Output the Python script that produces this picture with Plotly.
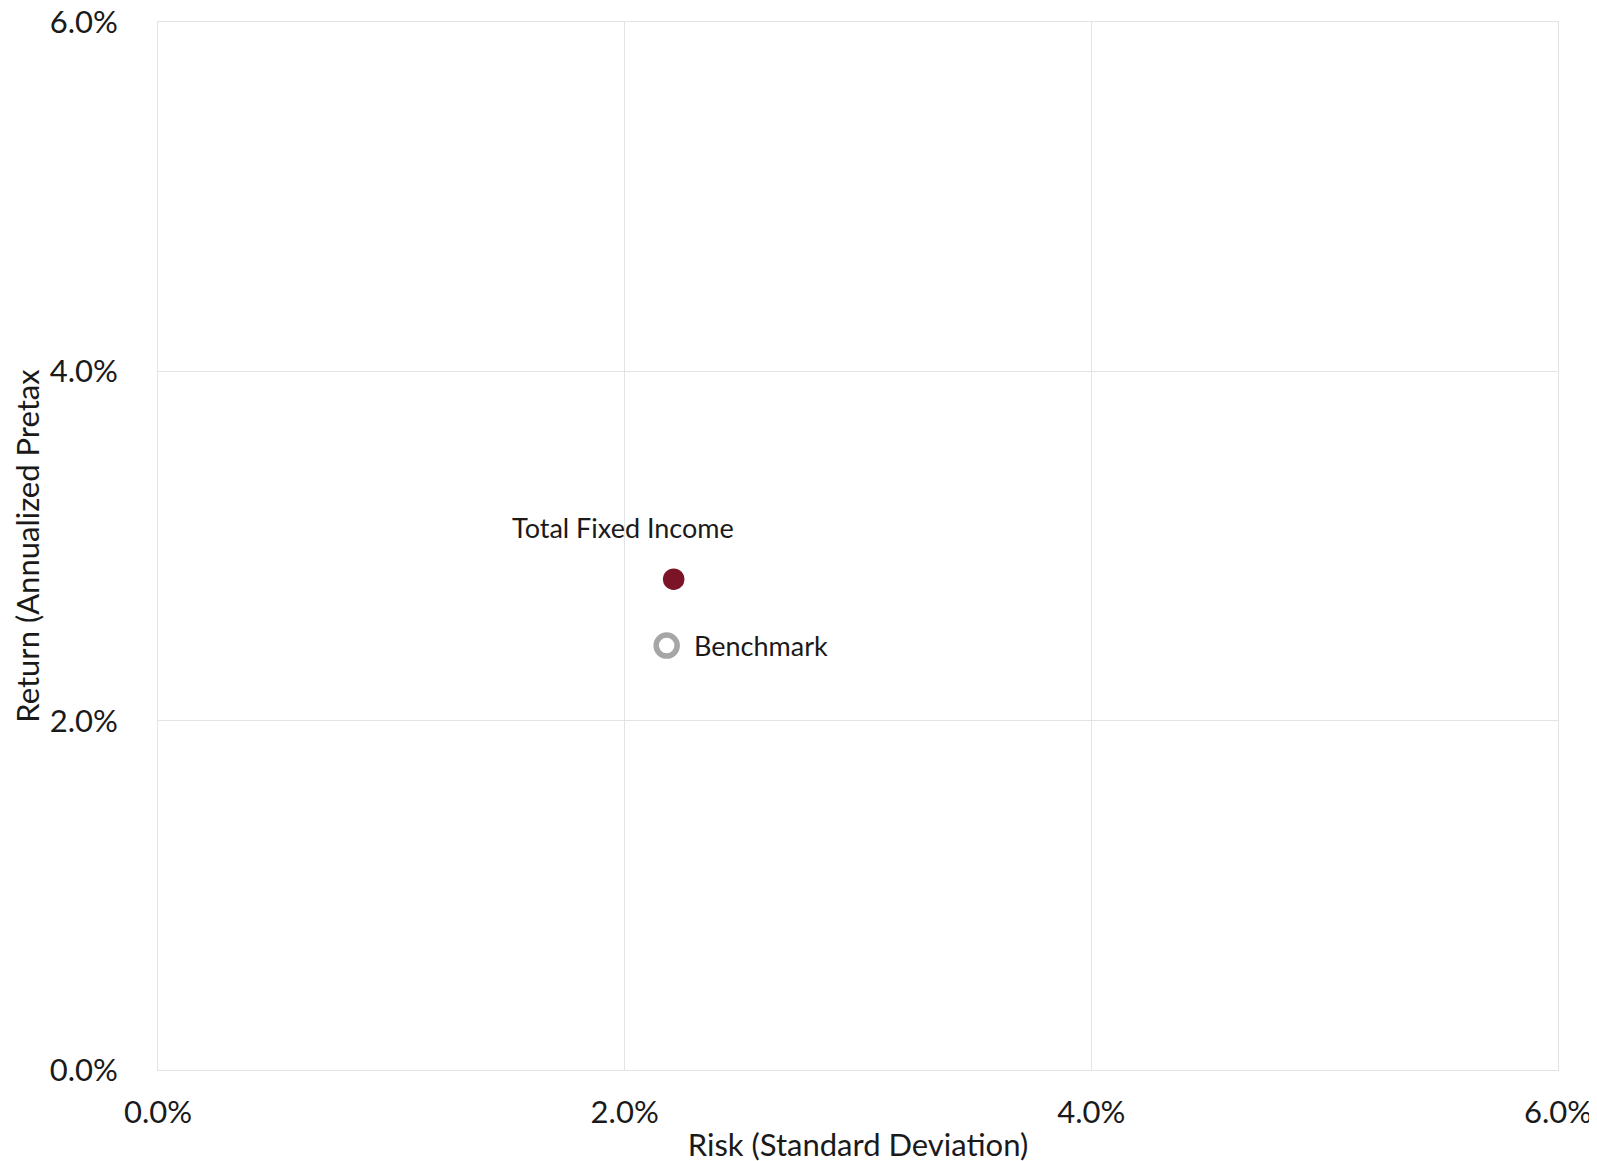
import plotly.graph_objects as go

names = ["Total Fixed Income", "Benchmark"]
risk = [2.21, 2.18]
ret = [2.81, 2.43]

FONT = "Lato"
TXT = "#1a1a1a"
fig = go.Figure()
fig.add_trace(go.Scatter(x=[risk[0]], y=[ret[0]], mode="markers",
                         marker=dict(size=21.5, color="#7B1426"), showlegend=False))
fig.add_trace(go.Scatter(x=[risk[1]], y=[ret[1]], mode="markers",
                         marker=dict(size=21, color="white", line=dict(color="#A6A6A6", width=5.5)),
                         showlegend=False))
fig.add_annotation(x=risk[0], y=ret[0], text=names[0], showarrow=False,
                   xshift=-51, yshift=52, font=dict(family=FONT, size=27, color=TXT))
fig.add_annotation(x=risk[1], y=ret[1], text=names[1], showarrow=False,
                   xanchor="left", xshift=25, font=dict(family=FONT, size=27, color=TXT))

axis_common = dict(range=[0, 6], dtick=2, ticksuffix="%", tickformat=".1f",
                   showgrid=True, gridcolor="#E3E3E3", gridwidth=1,
                   showline=True, linecolor="#E3E3E3", mirror=True, automargin=False,
                   ticklabeloverflow="allow",
                   zeroline=False, tickfont=dict(family=FONT, size=31, color=TXT))
fig.update_xaxes(**axis_common, ticklabelstandoff=15,
                 title=dict(text="Risk (Standard Deviation)", standoff=5,
                            font=dict(family=FONT, size=31, color=TXT)))
fig.update_yaxes(**axis_common, ticklabelstandoff=33,
                 title=dict(text="Return (Annualized Pretax", standoff=5,
                            font=dict(family=FONT, size=31, color=TXT)))
fig.update_layout(width=1597, height=1161, plot_bgcolor="white", paper_bgcolor="white",
                  margin=dict(l=150, r=47, t=14, b=99))
fig.write_html("out.html")
